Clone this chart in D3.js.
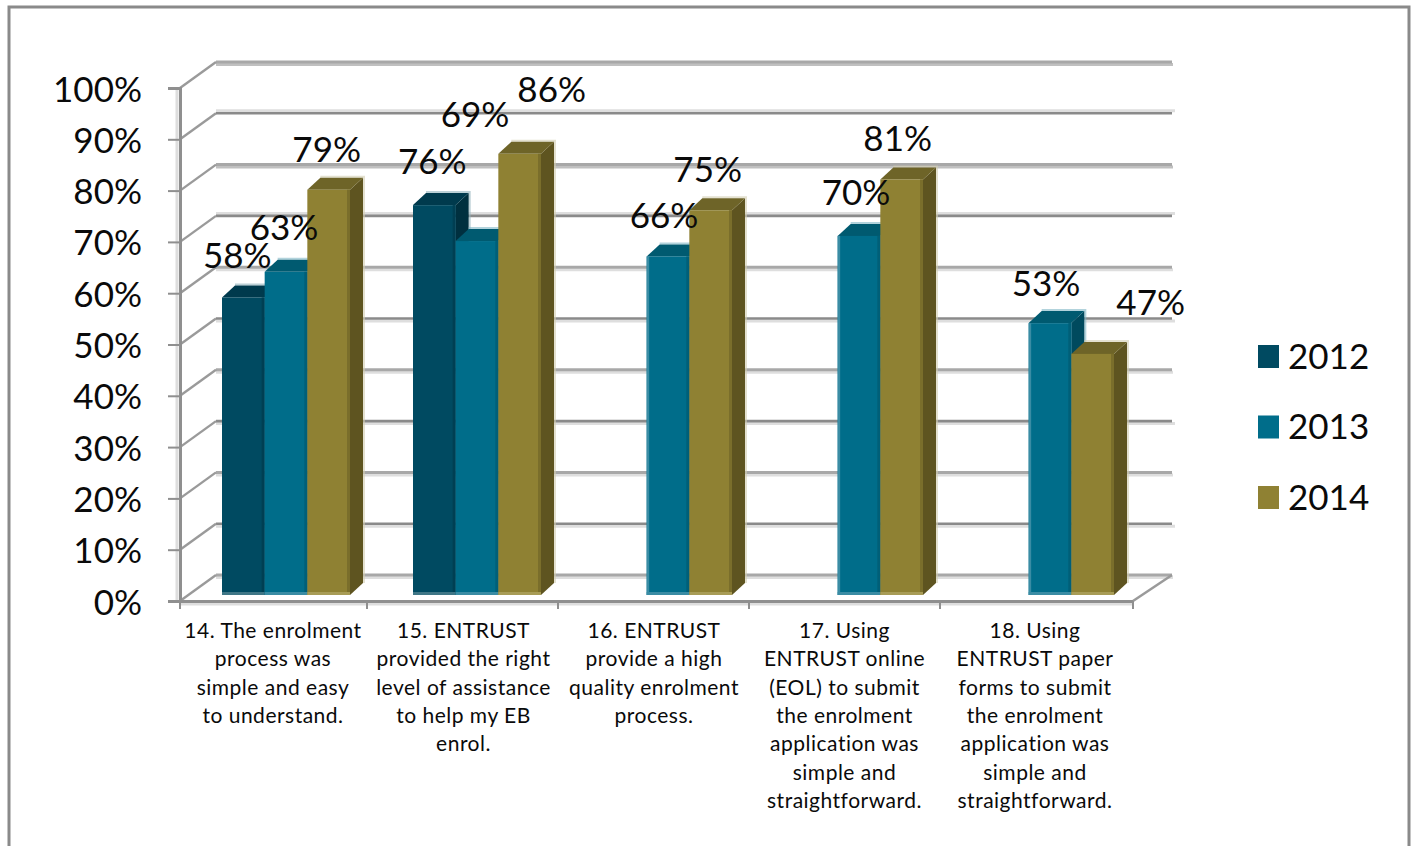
<!DOCTYPE html>
<html>
<head>
<meta charset="utf-8">
<script src="https://cdn.jsdelivr.net/npm/d3@7/dist/d3.min.js"></script>
<style>
  html, body { margin: 0; padding: 0; background: #fff; overflow: hidden; }
  svg { display: block; }
  text { font-family: Lato, "Open Sans", sans-serif; fill: #0a0a0a; }
</style>
</head>
<body>
<svg id="chart" width="1416" height="846"></svg>
<script>
// Survey results by question and year
const categories = ["q14", "q15", "q16", "q17", "q18"];
const categoryLines = [
  ["14. The enrolment", "process was", "simple and easy", "to understand."],
  ["15. ENTRUST", "provided the right", "level of assistance", "to help my EB", "enrol."],
  ["16. ENTRUST", "provide a high", "quality enrolment", "process."],
  ["17. Using", "ENTRUST online", "(EOL) to submit", "the enrolment", "application was", "simple and", "straightforward."],
  ["18. Using", "ENTRUST paper", "forms to submit", "the enrolment", "application was", "simple and", "straightforward."]
];
const years = ["2012", "2013", "2014"];
const values2012 = [58, 76, null, null, null];
const values2013 = [63, 69, 66, 70, 53];
const values2014 = [79, 86, 75, 81, 47];
const seriesValues = [values2012, values2013, values2014];
const yTicks = [0, 10, 20, 30, 40, 50, 60, 70, 80, 90, 100];

// Hand-placed data label nudges relative to each bar's top centre, per series then category
const labelNudge = [
  [[-6, -42], [-2, -44], null, null, null],
  [[-2, -44], [-2, -127], [-4, -41], [-3, -44], [-4, -40]],
  [[-2, -40], [32, -64], [-3, -41], [-4, -41], [58, -51]]
];

const palette = {
  front: ["#004a61", "#006d8a", "#8f8133"],
  strip: ["#003f53", "#005f78", "#7a6e2b"],
  side:  ["#00303f", "#004a5e", "#5e5420"],
  top:   ["#003a4d", "#005a70", "#6e6428"],
  edge:  ["#3f7686", "#3a8ca4", "#a89c56"],
  halo:  ["#8fb0ba", "#7fb5c4", "#d2cdb0"]
};

const svg = d3.select("#chart");
const axisX = 180, axisRight = 1135, floorEnd = 1133, wallEnd = 1172;
const depthX = 36, depthY = 26;

const x = d3.scaleBand().domain(categories).range([axisX, axisRight]);
const y = d3.scaleLinear().domain([0, 100]).range([601, 88]);
// Bars stand slightly behind the front plane of the floor
const yBar = d3.scaleLinear().domain([0, 100]).range([595, 82]);
const xInner = d3.scaleBand().domain(years).range([0, 128]);
const groupInset = 42;
const barDx = 13, barDy = 12;

// Outer frame, open at the bottom edge
svg.append("path")
  .attr("d", "M9,846V7H1409V846")
  .attr("fill", "none").attr("stroke", "#8a8a8a").attr("stroke-width", 3);

// Back wall gridlines: odd tens are darker, and the soft band flips side above 60%
const walls = svg.append("g");
yTicks.forEach(t => {
  const gy = y(t) - depthY;
  const odd = t % 20 !== 0;
  const above = t === 90 || t === 70;
  walls.append("line")
    .attr("x1", axisX + depthX).attr("x2", wallEnd + (odd ? 3 : 1))
    .attr("y1", above ? gy - 2.5 : gy + 2.5).attr("y2", above ? gy - 2.5 : gy + 2.5)
    .attr("stroke", t >= 80 && !odd ? "#c0c0c0" : "#dedede").attr("stroke-width", 3);
  walls.append("line")
    .attr("x1", axisX + depthX).attr("x2", wallEnd)
    .attr("y1", gy).attr("y2", gy)
    .attr("stroke", odd ? "#8a8a8a" : "#a8a8a8").attr("stroke-width", odd ? 2.6 : 3);
  walls.append("line")
    .attr("x1", axisX).attr("x2", axisX + depthX)
    .attr("y1", y(t)).attr("y2", gy)
    .attr("stroke", "#9a9a9a").attr("stroke-width", 2.4);
});

// Right end of the floor
walls.append("line")
  .attr("x1", floorEnd).attr("x2", wallEnd)
  .attr("y1", y(0)).attr("y2", y(0) - depthY)
  .attr("stroke", "#9a9a9a").attr("stroke-width", 2.4);

// Bars, painted left to right so that each front covers its neighbour's side
const bars = svg.append("g");
categories.forEach((c, ci) => {
  years.forEach((yr, si) => {
    const v = seriesValues[si][ci];
    if (v === null) return;
    const bx = x(c) + groupInset + xInner(yr);
    const w = xInner.bandwidth();
    const top = yBar(v), base = yBar(0);

    // Faint fringe along the back and outer edges
    bars.append("path")
      .attr("d", `M${bx + barDx},${top - barDy - 1}H${bx + w + barDx + 1}V${base - barDy}`)
      .attr("fill", "none").attr("stroke", palette.halo[si])
      .attr("stroke-width", 2).attr("opacity", 0.6);

    bars.append("path")
      .attr("d", `M${bx + w},${top}l${barDx},${-barDy}V${base - barDy}l${-barDx},${barDy}Z`)
      .attr("fill", palette.side[si]);
    bars.append("path")
      .attr("d", `M${bx},${top}l${barDx},${-barDy}H${bx + w + barDx}l${-barDx},${barDy}Z`)
      .attr("fill", palette.top[si]);
    bars.append("rect")
      .attr("x", bx).attr("y", top).attr("width", w).attr("height", base - top)
      .attr("fill", palette.front[si]);
    bars.append("rect")
      .attr("x", bx + w - 3).attr("y", top).attr("width", 3).attr("height", base - top)
      .attr("fill", palette.strip[si]);
    bars.append("rect")
      .attr("x", bx).attr("y", base - 3).attr("width", w).attr("height", 3)
      .attr("fill", palette.edge[si]);

    // The first bar of a group without a 2012 value carries a lighter left edge
    if (si === 1 && seriesValues[0][ci] === null) {
      bars.append("rect")
        .attr("x", bx).attr("y", top).attr("width", 2.5).attr("height", base - top)
        .attr("fill", palette.edge[si]);
    }
  });
});

// Value axis
const yAxis = svg.append("g")
  .attr("transform", `translate(${axisX},0)`)
  .call(d3.axisLeft(y).tickValues(yTicks).tickSize(12).tickPadding(26).tickFormat(d => d + "%"));
yAxis.select(".domain").attr("stroke", "#8f8f8f").attr("stroke-width", 3);
yAxis.insert("line", ".domain")
  .attr("x1", -3).attr("x2", -3).attr("y1", y(100)).attr("y2", y(0))
  .attr("stroke", "#dedede").attr("stroke-width", 3);
yAxis.selectAll(".tick line").attr("stroke", "#8f8f8f").attr("stroke-width", 2);
yAxis.selectAll(".tick text")
  .attr("font-size", 35).attr("font-family", "Lato").attr("fill", "#0a0a0a")
  .attr("dy", "1.0em").attr("transform", "translate(0,-22)");

// Category axis; tick marks sit a few pixels left of the band edges
const xAxis = svg.append("g")
  .attr("transform", `translate(0,${y(0)})`)
  .call(d3.axisBottom(x).tickValues([]).tickSize(0));
xAxis.select(".domain").remove();
xAxis.append("line").attr("x1", axisX).attr("x2", floorEnd).attr("y1", 3).attr("y2", 3)
  .attr("stroke", "#dedede").attr("stroke-width", 3);
xAxis.append("line").attr("x1", axisX).attr("x2", floorEnd).attr("y1", 0.5).attr("y2", 0.5)
  .attr("stroke", "#8f8f8f").attr("stroke-width", 3);
categories.forEach((c, i) => {
  const tx = i === 0 ? axisX : x(c) - 4;
  xAxis.append("line").attr("x1", tx).attr("x2", tx).attr("y1", 0).attr("y2", 8)
    .attr("stroke", "#8f8f8f").attr("stroke-width", 2);
});
xAxis.append("line").attr("x1", floorEnd).attr("x2", floorEnd).attr("y1", 0).attr("y2", 8)
  .attr("stroke", "#8f8f8f").attr("stroke-width", 2);

// Wrapped category labels
const labelCentre = d3.scalePoint().domain(categories).range([273, 1035]);
const catText = svg.append("g").attr("text-anchor", "middle").attr("font-size", 21)
  .attr("letter-spacing", 0.5);
categories.forEach((c, ci) => {
  categoryLines[ci].forEach((line, li) => {
    catText.append("text")
      .attr("x", labelCentre(c))
      .attr("y", 638 + li * 28.3)
      .text(line);
  });
});

// Data labels
const labels = svg.append("g").attr("text-anchor", "middle").attr("font-size", 35);
categories.forEach((c, ci) => {
  years.forEach((yr, si) => {
    const v = seriesValues[si][ci];
    if (v === null) return;
    const n = labelNudge[si][ci];
    labels.append("text")
      .attr("x", x(c) + groupInset + xInner(yr) + xInner.bandwidth() / 2 + n[0])
      .attr("y", yBar(v) + n[1])
      .attr("dy", "0.36em")
      .text(v + "%");
  });
});

// Legend
const legend = svg.append("g");
const legendY = d3.scalePoint().domain(years).range([356, 497]);
years.forEach((yr, si) => {
  legend.append("rect")
    .attr("x", 1258).attr("y", legendY(yr) - 11).attr("width", 21).attr("height", 23)
    .attr("fill", palette.front[si]);
  legend.append("text")
    .attr("x", 1288).attr("y", legendY(yr)).attr("dy", "0.36em")
    .attr("font-size", 35).text(yr);
});
</script>
</body>
</html>
